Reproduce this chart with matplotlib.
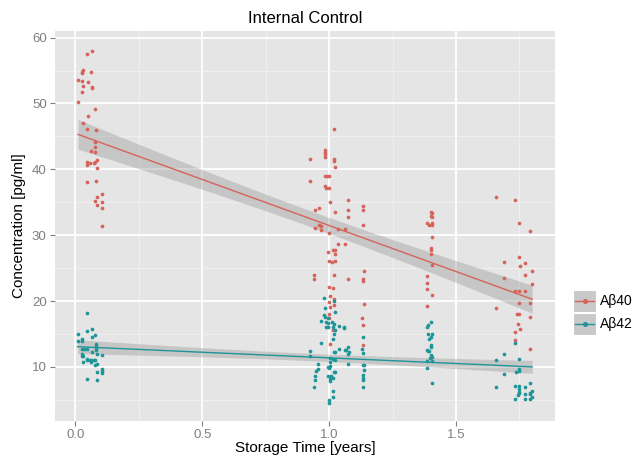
import numpy as np
import matplotlib
matplotlib.use('Agg')
import matplotlib.pyplot as plt
from matplotlib.lines import Line2D
from matplotlib.patches import Rectangle

plt.rcParams['font.family'] = ['Liberation Sans', 'DejaVu Sans']

# Abeta40 (storage time in years, concentration in pg/ml)
t40 = [0.048, 0.064, 0.029, 0.027, 0.027, 0.062, 0.011, 0.027, 0.050, 0.029, 0.064, 0.064, 0.027,
       0.011, 0.079, 0.050, 0.029, 0.045, 0.082, 0.079, 0.079, 0.079, 0.061, 0.087, 0.079, 0.074,
       0.045, 0.048, 0.058, 0.084, 0.048, 0.082, 0.105, 0.087, 0.079, 0.105, 0.087, 0.105, 0.105,
       1.021, 0.982, 0.982, 0.982, 0.924, 0.984, 1.021, 1.021, 1.024, 0.984, 0.991, 0.999, 0.924,
       0.982, 0.987, 0.999, 1.004, 1.073, 1.132, 0.960, 0.946, 1.076, 1.132, 1.025, 1.073, 0.960,
       0.967, 0.967, 0.946, 1.132, 1.035, 1.063, 1.001, 1.035, 1.063, 1.017, 1.025, 1.025, 0.996,
       1.001, 1.025, 1.010, 1.136, 0.942, 0.942, 1.018, 1.076, 1.132, 1.132, 1.001, 1.015, 1.005,
       1.018, 1.001, 1.018, 1.005, 1.138, 1.001, 1.000, 1.131, 1.132, 1.015, 1.135, 1.004,
       1.402, 1.405, 1.400, 1.405, 1.384, 1.392, 1.405, 1.407, 1.405, 1.400, 1.402, 1.400, 1.405,
       1.386, 1.386, 1.384, 1.405, 1.386,
       1.656, 1.732, 1.748, 1.790, 1.747, 1.690, 1.771, 1.753, 1.800, 1.771, 1.690, 1.800, 1.732,
       1.750, 1.771, 1.748, 1.790, 1.656, 1.748, 1.740, 1.790, 1.746, 1.753, 1.732, 1.732, 1.790]
c40 = [57.5, 57.9, 55.1, 54.8, 54.6, 54.8, 53.5, 53.4, 53.3, 52.6, 52.5, 52.3, 51.7,
       50.2, 49.1, 48.1, 47.1, 46.1, 45.9, 44.1, 43.4, 42.6, 42.8, 41.4, 41.1, 41.0,
       41.1, 40.6, 41.0, 40.2, 38.1, 38.3, 36.2, 35.8, 35.2, 35.0, 34.6, 34.1, 31.4,
       46.1, 43.0, 42.7, 42.4, 41.6, 41.9, 41.6, 41.3, 40.3, 39.0, 39.0, 39.0, 38.2,
       37.4, 37.2, 37.1, 35.0, 35.3, 34.5, 34.2, 33.8, 33.8, 33.8, 33.6, 32.8, 31.5,
       31.4, 30.8, 31.1, 31.5, 30.9, 30.9, 30.3, 28.7, 28.7, 27.8, 27.8, 27.1, 27.5,
       26.1, 26.1, 26.0, 24.6, 23.9, 23.3, 23.9, 23.4, 23.3, 23.0, 22.2, 22.0, 20.7,
       20.3, 19.8, 19.4, 19.1, 19.5, 18.0, 17.4, 17.5, 16.4, 15.6, 13.4, 13.5,
       33.5, 33.3, 32.9, 32.7, 31.8, 31.6, 31.6, 31.8, 29.7, 28.1, 27.7, 27.1, 25.5,
       23.8, 22.8, 21.8, 20.9, 19.3,
       35.8, 35.3, 31.8, 30.6, 26.7, 25.9, 25.8, 25.3, 24.5, 23.9, 23.5, 22.6, 21.5,
       21.6, 21.6, 19.7, 19.7, 19.0, 18.1, 18.0, 17.6, 16.5, 15.8, 15.3, 14.1, 12.7]

# Abeta42
t42 = [0.048, 0.064, 0.048, 0.011, 0.079, 0.064, 0.027, 0.027, 0.009, 0.082, 0.082, 0.082, 0.082,
       0.027, 0.035, 0.048, 0.027, 0.064, 0.087, 0.027, 0.032, 0.105, 0.048, 0.045, 0.061, 0.056,
       0.079, 0.030, 0.061, 0.074, 0.087, 0.079, 0.105, 0.105, 0.105, 0.087, 0.048, 0.087,
       0.979, 1.021, 0.982, 1.025, 0.980, 0.982, 0.997, 0.967, 0.986, 0.997, 1.012, 1.021, 1.037,
       0.986, 0.996, 1.017, 1.060, 1.060, 1.022, 1.021, 1.132, 1.017, 0.967, 1.131, 1.076, 1.037,
       1.063, 1.067, 0.923, 1.020, 1.025, 1.078, 1.074, 1.132, 0.923, 1.004, 1.017, 1.025, 1.004,
       0.958, 1.076, 1.132, 1.138, 1.004, 1.001, 0.997, 0.957, 0.949, 1.138, 1.021, 1.024, 1.132,
       0.997, 1.008, 1.004, 1.004, 0.945, 0.945, 1.017, 1.132, 1.132, 0.941, 1.132, 1.017, 1.017,
       1.001, 1.001,
       1.400, 1.389, 1.386, 1.407, 1.400, 1.389, 1.392, 1.402, 1.402, 1.386, 1.392, 1.389, 1.400,
       1.405, 1.397, 1.386, 1.405, 1.386, 1.405,
       1.732, 1.690, 1.656, 1.750, 1.750, 1.748, 1.736, 1.690, 1.790, 1.656, 1.732, 1.748, 1.771,
       1.748, 1.748, 1.750, 1.746, 1.771, 1.790, 1.792, 1.800, 1.800, 1.732, 1.771, 1.790]
c42 = [18.2, 15.8, 15.4, 15.0, 14.8, 14.5, 14.2, 13.9, 13.9, 13.5, 13.2, 12.9, 12.6,
       12.8, 12.8, 12.7, 12.0, 12.3, 12.0, 11.6, 11.6, 11.8, 11.2, 11.0, 11.1, 11.0,
       11.1, 10.7, 10.8, 11.0, 10.5, 10.3, 9.7, 9.4, 9.1, 9.3, 8.2, 8.0,
       20.4, 20.0, 18.9, 18.3, 17.9, 17.6, 17.4, 17.0, 16.8, 16.7, 16.8, 16.6, 16.2,
       16.0, 16.0, 16.0, 16.1, 15.9, 15.6, 15.0, 14.6, 14.2, 13.7, 12.8, 13.0, 12.7,
       12.6, 12.6, 12.5, 12.2, 12.2, 12.2, 11.9, 12.1, 11.6, 11.3, 11.2, 11.0, 10.8,
       10.5, 10.5, 10.3, 10.3, 10.2, 9.8, 10.0, 9.7, 9.4, 9.5, 9.2, 9.2, 8.8,
       8.7, 8.6, 8.2, 7.9, 8.6, 8.0, 8.3, 8.3, 8.0, 6.9, 7.0, 6.4, 5.4,
       5.0, 4.5,
       16.8, 16.4, 16.0, 15.0, 14.6, 15.0, 14.2, 13.3, 13.0, 12.6, 12.4, 12.5, 11.8,
       11.5, 11.3, 10.9, 10.9, 9.8, 7.6,
       13.7, 11.9, 11.0, 11.2, 9.7, 9.4, 9.2, 9.0, 7.6, 6.9, 7.1, 7.1, 6.9,
       6.6, 6.0, 6.2, 5.7, 5.9, 6.1, 5.9, 6.4, 5.5, 5.1, 5.1, 5.1]

labels = ['A\u03b240', 'A\u03b242']
colors = ['#D5635A', '#1E9599']

W, H = 634, 459


def fit_band(x, y):
    x = np.asarray(x)
    y = np.asarray(y)
    b, a = np.polyfit(x, y, 1)
    n = len(x)
    resid = y - (a + b * x)
    s = np.sqrt(np.sum(resid ** 2) / (n - 2))
    sxx = np.sum((x - x.mean()) ** 2)
    xs = np.linspace(x.min(), x.max(), 80)
    fit = a + b * xs
    se = s * np.sqrt(1.0 / n + (xs - x.mean()) ** 2 / sxx)
    return xs, fit, 1.98 * se


fig = plt.figure(figsize=(W / 100, H / 100), dpi=100)
ax = fig.add_axes([55 / W, 38 / H, 500 / W, 390 / H])
ax.set_facecolor('#E5E5E5')
for sp in ax.spines.values():
    sp.set_visible(False)

ax.set_xlim(-0.08, 1.89)
ax.set_ylim(1.8, 61.0)
ax.set_xticks([0.0, 0.5, 1.0, 1.5])
ax.set_xticklabels(['0.0', '0.5', '1.0', '1.5'])
ax.set_yticks([10, 20, 30, 40, 50, 60])
ax.set_xticks([0.25, 0.75, 1.25, 1.75], minor=True)
ax.set_yticks([5, 15, 25, 35, 45, 55], minor=True)
ax.grid(which='major', color='white', lw=1.3)
ax.grid(which='minor', color='#F2F2F2', lw=0.6)
ax.set_axisbelow(True)
ax.tick_params(which='major', length=3.5, width=0.8, color='#7F7F7F',
               labelcolor='#7F7F7F', labelsize=9.5, pad=2.5)
ax.tick_params(which='minor', length=0)

for (t, c), col in zip([(t40, c40), (t42, c42)], colors):
    xs, fit, ci = fit_band(t, c)
    ax.fill_between(xs, fit - ci, fit + ci, color='#999999', alpha=0.4, lw=0, zorder=2)
    ax.scatter(t, c, s=7, color=col, lw=0, zorder=3)
    ax.plot(xs, fit, color=col, lw=1.0, zorder=4)

ax.set_title('Internal Control', fontsize=12, pad=6)
ax.set_xlabel('Storage Time [years]', fontsize=11, labelpad=0)
ax.set_ylabel('Concentration [pg/ml]', fontsize=11, labelpad=4)

# legend keys drawn by hand, ggplot style
kx, kw, kh, ky0 = 573, 23, 22, 290
for i, (lab, col) in enumerate(zip(labels, colors)):
    top = ky0 + i * (kh + 1)
    fig.add_artist(Rectangle(((kx) / W, 1 - (top + kh) / H), kw / W, kh / H,
                             transform=fig.transFigure, facecolor='#C9C9C9',
                             edgecolor='white', lw=0.8))
    yc = 1 - (top + kh / 2) / H
    fig.add_artist(Line2D([(kx + 2) / W, (kx + kw - 2) / W], [yc, yc],
                          transform=fig.transFigure, color=col, lw=1.0))
    fig.add_artist(Line2D([(kx + kw / 2) / W], [yc], transform=fig.transFigure,
                          color=col, marker='o', markersize=2.6, lw=0))
    fig.text((kx + kw + 4) / W, yc, lab, fontsize=10, va='center', ha='left')

fig.savefig('out.png', dpi=100)
